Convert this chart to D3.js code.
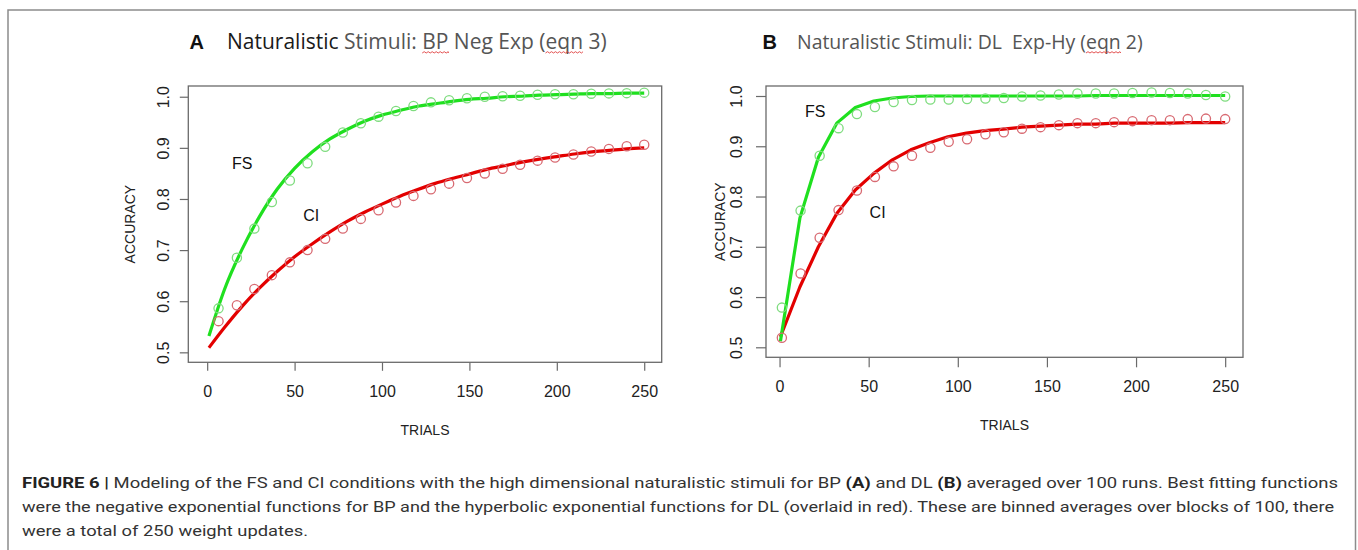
<!DOCTYPE html>
<html><head><meta charset="utf-8">
<script src="https://cdn.jsdelivr.net/npm/d3@7"></script>
<style>
body{margin:0;background:#fff;}
svg{display:block;}
</style></head><body>
<svg id="chart" width="1358" height="550"></svg>
<script>
// ---------- data ----------
const yTicks = [0.5, 0.6, 0.7, 0.8, 0.9, 1.0];
const xTicks = [0, 50, 100, 150, 200, 250];

// Panel A : BP, negative exponential fit
const trialsA = [6.5, 17, 27, 37, 47.3, 57.4, 67.5, 77.6, 87.9, 98, 108, 118, 128, 138.4, 148.6, 158.8, 169, 179, 189, 199, 209.5, 219.7, 229.8, 240, 250];
const fsA = [0.586, 0.685, 0.742, 0.794, 0.836, 0.870, 0.902, 0.930, 0.948, 0.961, 0.972, 0.982, 0.989, 0.993, 0.997, 1.000, 1.001, 1.002, 1.004, 1.005, 1.005, 1.006, 1.0065, 1.007, 1.008];
const ciA = [0.561, 0.592, 0.624, 0.651, 0.676, 0.700, 0.722, 0.742, 0.761, 0.778, 0.793, 0.806, 0.819, 0.830, 0.841, 0.850, 0.859, 0.867, 0.875, 0.881, 0.887, 0.893, 0.898, 0.903, 0.906];
const fitTrialsA = [1, 10, 20, 30, 40, 50, 60, 70, 80, 90, 100, 110, 120, 130, 140, 150, 160, 170, 180, 190, 200, 210, 220, 230, 240, 250];
const fsFitA = [0.532, 0.624, 0.702, 0.766, 0.819, 0.860, 0.892, 0.917, 0.936, 0.952, 0.964, 0.973, 0.981, 0.986, 0.991, 0.995, 0.997, 1.000, 1.001, 1.003, 1.004, 1.005, 1.006, 1.006, 1.007, 1.007];
const ciFitA = [0.509, 0.549, 0.590, 0.626, 0.658, 0.687, 0.712, 0.735, 0.756, 0.774, 0.790, 0.805, 0.818, 0.830, 0.840, 0.849, 0.858, 0.865, 0.872, 0.878, 0.883, 0.888, 0.892, 0.895, 0.898, 0.900];

// Panel B : DL, hyperbolic exponential fit
const trialsB = [1.3, 11.8, 22.5, 33.1, 43.4, 53.5, 64, 74.3, 84.6, 94.9, 105.2, 115.5, 125.8, 136, 146.4, 156.7, 167.1, 177.4, 187.7, 198, 208.7, 219, 229, 239.2, 250];
const fsB = [0.579, 0.772, 0.881, 0.936, 0.964, 0.978, 0.988, 0.992, 0.993, 0.993, 0.994, 0.995, 0.996, 0.999, 1.001, 1.003, 1.005, 1.005, 1.005, 1.006, 1.007, 1.006, 1.005, 1.002, 0.999];
const ciB = [0.519, 0.647, 0.718, 0.773, 0.812, 0.839, 0.860, 0.881, 0.897, 0.909, 0.914, 0.924, 0.928, 0.935, 0.938, 0.942, 0.946, 0.946, 0.948, 0.950, 0.952, 0.952, 0.954, 0.955, 0.954];
const fitTrialsB = [0.5, 11.4, 21.8, 32.1, 42.5, 52.9, 63.3, 73.6, 84, 94.4, 104.8, 115.1, 125.5, 135.9, 146.3, 156.6, 167, 177.4, 187.8, 198.1, 208.5, 218.9, 229.3, 239.6, 250];
const fsFitB = [0.512, 0.757, 0.878, 0.946, 0.977, 0.990, 0.996, 0.999, 1.000, 1.000, 1.000, 1.000, 1.000, 1.000, 1.000, 1.000, 1.000, 1.001, 1.001, 1.001, 1.001, 1.001, 1.001, 1.001, 1.001];
const ciFitB = [0.521, 0.620, 0.700, 0.766, 0.813, 0.846, 0.873, 0.893, 0.907, 0.919, 0.926, 0.931, 0.934, 0.938, 0.940, 0.942, 0.944, 0.944, 0.946, 0.946, 0.946, 0.946, 0.947, 0.947, 0.947];

const labelNames = ["FS", "CI"];
const labelTrialsA = [20, 59.5], labelAccA = [0.870, 0.768];
const labelTrialsB = [20, 55], labelAccB = [0.969, 0.768];

const captionLines = [
  [["FIGURE 6 | ", true], ["Modeling of the FS and CI conditions with the high dimensional naturalistic stimuli for BP ", false], ["(A)", true], [" and DL ", false], ["(B)", true], [" averaged over 100 runs. Best fitting functions", false]],
  [["were the negative exponential functions for BP and the hyperbolic exponential functions for DL (overlaid in red). These are binned averages over blocks of 100, there", false]],
  [["were a total of 250 weight updates.", false]]
];
const captionWidths = [1316, 1312, 286];

// ---------- drawing ----------
const svg = d3.select("#chart");
svg.append("rect").attr("width", 1358).attr("height", 550).attr("fill", "#fff");
svg.append("path").attr("d", "M8,560V10H1355.5V560").attr("fill", "none").attr("stroke", "#8c8c8c").attr("stroke-width", 1.5);

const GREEN_LINE = "#1fe01f", RED_LINE = "#e30000", GREEN_PT = "#7fdc7f", RED_PT = "#d86a72";
const AX = "#6a6a6a";
const SANS = "'Liberation Sans', Arial, sans-serif";

function panel(p) {
  const g = svg.append("g");
  const x = d3.scaleLinear().domain(p.xDom).range([p.left, p.right]);
  const y = d3.scaleLinear().domain(p.yDom).range([p.bottom, p.top]);

  // y axis
  const ya = g.append("g").attr("transform", `translate(${p.left},0)`)
    .call(d3.axisLeft(y).tickValues(yTicks).tickSize(p.tickLen).tickFormat(d3.format(".1f")));
  ya.select(".domain").remove();
  ya.selectAll(".tick line").attr("stroke", AX).attr("stroke-width", 1.2);
  ya.selectAll(".tick text").attr("transform", "rotate(-90)").attr("x", 0).attr("y", -p.yLabOff)
    .attr("dy", "0.35em").attr("text-anchor", "middle").attr("font-size", 16).attr("font-family", SANS).attr("fill", "#222");
  // x axis
  const xa = g.append("g").attr("transform", `translate(0,${p.bottom})`)
    .call(d3.axisBottom(x).tickValues(xTicks).tickSize(p.tickLen).tickFormat(d3.format("d")));
  xa.select(".domain").remove();
  xa.selectAll(".tick line").attr("stroke", AX).attr("stroke-width", 1.2);
  xa.selectAll(".tick text").attr("y", 29.4).attr("dy", "0.36em").attr("font-size", 16).attr("font-family", SANS).attr("fill", "#222");

  // box
  g.append("rect").attr("x", p.left).attr("y", p.top).attr("width", p.right - p.left).attr("height", p.bottom - p.top)
    .attr("fill", "none").attr("stroke", AX).attr("stroke-width", 1.3);

  // axis titles
  g.append("text").attr("transform", `translate(${p.left - p.yTitleOff},${(p.top + p.bottom) / 2}) rotate(-90)`)
    .attr("text-anchor", "middle").attr("dy", "0.35em").attr("font-size", 14).attr("font-family", SANS).attr("fill", "#222").text("ACCURACY");
  g.append("text").attr("x", (p.left + p.right) / 2).attr("y", p.bottom + 68).attr("dy", "0.35em")
    .attr("text-anchor", "middle").attr("font-size", 14).attr("font-family", SANS).attr("fill", "#222").text("TRIALS");

  // fitted curves
  const line = d3.line().x(d => x(d[0])).y(d => y(d[1])).curve(p.curve);
  [[p.ciFit, RED_LINE], [p.fsFit, GREEN_LINE]].forEach(([vals, col]) => {
    g.append("path").datum(p.fitTrials.map((t, i) => [t, vals[i]]))
      .attr("d", line).attr("fill", "none").attr("stroke", col).attr("stroke-width", 3.2).attr("stroke-linejoin", "round");
  });
  // points
  [[p.ci, RED_PT], [p.fs, GREEN_PT]].forEach(([vals, col]) => {
    g.append("g").selectAll("circle").data(p.trials.map((t, i) => [t, vals[i]])).join("circle")
      .attr("cx", d => x(d[0])).attr("cy", d => y(d[1])).attr("r", 4.6)
      .attr("fill", "none").attr("stroke", col).attr("stroke-width", 1.3);
  });
  // labels
  labelNames.forEach((name, i) => {
    g.append("text").attr("x", x(p.labT[i])).attr("y", y(p.labA[i])).attr("dy", "0.35em").attr("text-anchor", "middle")
      .attr("font-size", 16).attr("font-family", SANS).attr("fill", "#111").text(name);
  });
}

panel({left: 188.3, right: 661.7, top: 86, bottom: 362.3, xDom: [-10.8, 260], yDom: [0.4805, 1.021],
  tickLen: 8.5, yLabOff: 25, yTitleOff: 58, curve: d3.curveMonotoneX,
  trials: trialsA, fs: fsA, ci: ciA, fitTrials: fitTrialsA, fsFit: fsFitA, ciFit: ciFitA, labT: labelTrialsA, labA: labelAccA});
panel({left: 766, right: 1243, top: 86, bottom: 357.3, xDom: [-7.6, 260], yDom: [0.4801, 1.0199],
  tickLen: 10, yLabOff: 30, yTitleOff: 46, curve: d3.curveLinear,
  trials: trialsB, fs: fsB, ci: ciB, fitTrials: fitTrialsB, fsFit: fsFitB, ciFit: ciFitB, labT: labelTrialsB, labA: labelAccB});

// titles
function title(letter, lx, tx, targetW, parts) {
  svg.append("text").attr("x", lx).attr("y", 49.3).attr("font-size", 20).attr("font-weight", "bold")
    .attr("font-family", SANS).attr("fill", "#111").text(letter);
  const t = svg.append("text").attr("x", tx).attr("y", 49.3).attr("font-size", 20)
    .attr("font-family", "'Open Sans', 'Noto Sans', sans-serif").attr("fill", "#555").attr("xml:space", "preserve");
  parts.forEach(([s, col]) => t.append("tspan").attr("fill", col).text(s));
  const w = t.node().getComputedTextLength();
  t.attr("font-size", 20 * targetW / w);
  return {t, full: parts.map(d => d[0]).join("")};
}
function wavy(t, full, word) {
  const idx = full.indexOf(word);
  const node = t.node();
  const x0 = node.getStartPositionOfChar(idx).x;
  const e = node.getEndPositionOfChar(idx + word.length - 1).x;
  const yb = 53;
  let d = `M${x0},${yb}`;
  for (let xx = x0, k = 0; xx < e; xx += 2, k++) d += `L${Math.min(xx + 2, e)},${yb + (k % 2 ? 0 : -1.3)}`;
  svg.append("path").attr("d", d).attr("fill", "none").attr("stroke", "#e04040").attr("stroke-width", 0.9);
}
const tA = title("A", 189.6, 227, 380, [["Naturalistic", "#1a1a1a"], [" Stimuli: BP Neg Exp (eqn 3)", "#555"]]);
wavy(tA.t, tA.full, "BP"); wavy(tA.t, tA.full, "eqn");
const tB = title("B", 762.5, 797, 346, [["Naturalistic Stimuli: DL  Exp-Hy (eqn 2)", "#555"]]);
wavy(tB.t, tB.full, "eqn");

// caption
const capBase = [488, 512, 536];
captionLines.forEach((parts, i) => {
  const t = svg.append("text").attr("x", 22).attr("y", capBase[i]).attr("font-size", 15)
    .attr("font-family", "Roboto, 'Liberation Sans', sans-serif").attr("fill", "#333").attr("xml:space", "preserve")
    .attr("textLength", captionWidths[i]).attr("lengthAdjust", "spacingAndGlyphs");
  parts.forEach(([s, b]) => t.append("tspan").attr("font-weight", b ? "bold" : "normal").attr("fill", b ? "#222" : "#333").text(s));
});
</script>
</body></html>
